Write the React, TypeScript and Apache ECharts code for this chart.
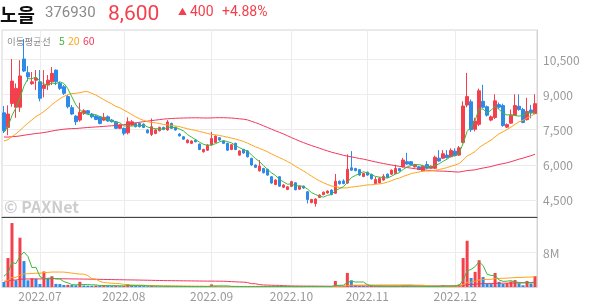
import React, { useEffect, useRef } from "react";
import * as echarts from "echarts";

// ---- header ----
const stockName = "노을";
const stockCode = "376930";
const lastPrice = "8,600";
const changeAbs = "400";
const changePct = "+4.88%";

// ---- axis ticks / labels ----
const priceTicks = [4500, 6000, 7500, 9000, 10500];
const volumeTicks = [8000000];
const monthStartIndex = [9, 30, 52, 72, 91, 113];
const monthLabels = ["2022.07", "2022.08", "2022.09", "2022.10", "2022.11", "2022.12"];

// closes / volumes before the visible window (only feed the moving averages)
const priorCloses = [
  8400, 8500, 8600, 8450, 8300, 8200, 8150, 8050, 7950, 7900, 7850, 7800, 7750, 7700, 7650,
  7600, 7550, 7500, 7450, 7400, 7350, 7300, 7250, 7200, 7150, 7100, 7050,
  6800, 6600, 6400, 6300, 6200, 6100, 6050, 6000, 6100, 6200, 6250, 6300, 6200,
  7000, 6950, 6900, 6850, 6800, 6750, 6800, 6850, 6900, 6950, 6900, 6850, 6800, 6900, 7050,
  7000, 7200, 7600, 7710,
];
const priorVolumes = [
  1.4, 1.3, 1.5, 1.2, 1.4, 1.3, 1.6, 1.2, 1.3, 1.4, 1.3, 1.2, 1.5, 1.4, 1.3, 1.2, 1.4, 1.3, 1.5, 1.2,
  1.3, 1.4, 1.3, 1.2, 1.5, 1.4, 1.3, 1.2, 1.4, 1.3, 1.5, 1.2, 1.3, 1.4, 1.3, 1.2, 1.5, 1.4, 1.3, 1.4,
  0.8, 0.7, 0.9, 0.8, 0.7, 0.8, 0.7, 0.8, 0.9, 0.7, 0.8, 0.7, 0.8, 0.7, 0.8,
  2.6, 3.0, 2.9, 2.84,
];

// [open, close, low, high]
const candles = [
  [8210, 7450, 7350, 8500], [7590, 8160, 7260, 8530], [8610, 9560, 8470, 10500], [8450, 9250, 8000, 9460],
  [8450, 9780, 8250, 10450], [10500, 9990, 9950, 11350], [9920, 9740, 9550, 10200], [9450, 9530, 9400, 9950],
  [9600, 9680, 9180, 10030], [9530, 8830, 8700, 10030], [9250, 9390, 8870, 10030], [9390, 9600, 9180, 9820],
  [9530, 9890, 9390, 10160], [10030, 9530, 9390, 10050], [9460, 9250, 9180, 9530], [9320, 9040, 8970, 9390],
  [8900, 8470, 8400, 8970], [8430, 8160, 8120, 8540], [8070, 7830, 7690, 8110], [7900, 8230, 7830, 8640],
  [8190, 8300, 8120, 8360], [8300, 8190, 8150, 8330], [8160, 8040, 7980, 8200], [8070, 7930, 7900, 8110],
  [8040, 7760, 7720, 8080], [7900, 8020, 7860, 8200], [8040, 7860, 7830, 8100], [7900, 7830, 7800, 7950],
  [7830, 7550, 7520, 7860], [7550, 7690, 7520, 7720], [7550, 7340, 7250, 7580], [7360, 7830, 7290, 8020],
  [7690, 7830, 7650, 7900], [7760, 7620, 7590, 7800], [7760, 7620, 7590, 7790], [7730, 7590, 7560, 7760],
  [7480, 7360, 7330, 7500], [7290, 7620, 7220, 7970], [7330, 7480, 7300, 7520], [7450, 7590, 7420, 7620],
  [7590, 7500, 7470, 7620], [7480, 7820, 7450, 7900], [7760, 7550, 7520, 7790], [7590, 7480, 7450, 7620],
  [7310, 7230, 7200, 7340], [7190, 7090, 7060, 7220], [6940, 7050, 6910, 7080], [6910, 7010, 6880, 7040],
  [7050, 6980, 6950, 7080], [6880, 6650, 6620, 6900], [6550, 6650, 6520, 6680], [6620, 6840, 6590, 6870],
  [6840, 7120, 6810, 7400], [6950, 7220, 6920, 7250], [7150, 7050, 7020, 7180], [7010, 6910, 6880, 7040],
  [6910, 6620, 6590, 6940], [6650, 6850, 6620, 6880], [6910, 6650, 6620, 6940], [6410, 6590, 6380, 6620],
  [6650, 6500, 6470, 6680], [6590, 6340, 6310, 6620], [6270, 5990, 5960, 6300], [5990, 5890, 5860, 6010],
  [5740, 5940, 5710, 6200], [5840, 5660, 5630, 5870], [5800, 5560, 5530, 5830], [5490, 5220, 5190, 5510],
  [5160, 5350, 5130, 5380], [5490, 5090, 5060, 5510], [5040, 5140, 5010, 5170], [4950, 5060, 4920, 5090],
  [5080, 5280, 5050, 5320], [5230, 4940, 4910, 5260], [4960, 5090, 4930, 5120], [5090, 5010, 4980, 5110],
  [4850, 4520, 4350, 4880], [4390, 4520, 4360, 4550], [4350, 4540, 4220, 4570], [4610, 4710, 4580, 4740],
  [4730, 4830, 4700, 4860], [4800, 4880, 4770, 4910], [4920, 4730, 4700, 4950], [4790, 5300, 4760, 5610],
  [5300, 5190, 5160, 5330], [5310, 5200, 5170, 5380], [5220, 5810, 5190, 6440], [5870, 5770, 5740, 6580],
  [5840, 5750, 5720, 5870], [5790, 5560, 5530, 5820], [5500, 5630, 5470, 5660], [5680, 5560, 5530, 5710],
  [5590, 5400, 5370, 5620], [5200, 5370, 5170, 5480], [5230, 5420, 5200, 5480], [5350, 5510, 5320, 5600],
  [5600, 5460, 5430, 5630], [5600, 5770, 5570, 5800], [5630, 5840, 5600, 6000], [5840, 5740, 5710, 5870],
  [5910, 6200, 5880, 6290], [6130, 6030, 6000, 6510], [6130, 6000, 5970, 6160], [5910, 6010, 5880, 6040],
  [5910, 5800, 5770, 5940], [5740, 5940, 5710, 6000], [6010, 5850, 5820, 6150], [5850, 5940, 5820, 5970],
  [5850, 6320, 5820, 6390], [6280, 6160, 6130, 6620], [6280, 6470, 6250, 6620], [6410, 6300, 6270, 6620],
  [6340, 6610, 6310, 6700], [6580, 6390, 6350, 6700], [6410, 6720, 6380, 6800], [6950, 8500, 6900, 8700],
  [8540, 8900, 8450, 9910], [8680, 7490, 7400, 8780], [7510, 7860, 7420, 8000], [7720, 9150, 7650, 9240],
  [8700, 8450, 8400, 9400], [8470, 8110, 8050, 8520], [7900, 8040, 7850, 8100], [8010, 8720, 7950, 9000],
  [8560, 8450, 8380, 8650], [8520, 7670, 7620, 8600], [7600, 7710, 7570, 7760], [7770, 8110, 7740, 8350],
  [8110, 8520, 8080, 9000], [8490, 8350, 8300, 9000], [8350, 7800, 7770, 8420], [7920, 8270, 7880, 8850],
  [8330, 8200, 7980, 8550], [8180, 8600, 8150, 9000],
];

// volume in millions of shares
const volumes = [
  1.16, 6.7, 14.8, 1.55, 11.4, 6.0, 1.55, 2.0, 1.9, 0.7, 3.6, 1.85, 2.5, 0.72, 0.68, 0.46, 0.5, 0.45, 0.4, 1.2,
  0.35, 0.3, 0.28, 0.33, 0.3, 0.45, 0.3, 0.22, 0.3, 0.2, 0.25, 0.7, 0.4, 0.3, 0.25, 0.2, 0.18, 0.3, 0.15, 0.14,
  0.12, 0.2, 0.13, 0.12, 0.1, 0.11, 0.09, 0.1, 0.08, 0.12, 0.1, 0.15, 0.6, 0.25, 0.12, 0.1, 0.12, 0.09, 0.1, 0.08,
  0.07, 0.09, 0.12, 0.1, 0.13, 0.09, 0.1, 0.14, 0.1, 0.12, 0.08, 0.07, 0.1, 0.12, 0.08, 0.07, 0.2, 0.12, 0.15, 0.1,
  0.09, 0.08, 0.1, 1.4, 0.3, 0.2, 3.25, 1.55, 0.45, 0.3, 0.25, 0.2, 0.22, 0.18, 0.2, 0.17, 0.14, 0.18, 0.2, 0.15,
  0.3, 0.25, 0.15, 0.12, 0.1, 0.13, 0.11, 0.09, 0.2, 0.15, 0.4, 0.2, 0.25, 0.3, 0.6, 6.7, 10.7, 2.1, 3.5, 6.2,
  2.3, 0.7, 0.68, 3.25, 1.2, 0.7, 0.9, 1.3, 1.6, 0.85, 0.4, 1.4, 0.8, 2.5,
];

const UP = "#f4404c";
const DOWN = "#2d8ae8";
const MA5C = "#3cb93c";
const MA20C = "#ffa41c";
const MA60C = "#f2375c";
const FONT = "'Noto Sans CJK KR', 'Noto Sans', sans-serif";
const NUMFONT = "Roboto, 'Noto Sans', sans-serif";

function movingAverage(values: number[], prior: number[], n: number): number[] {
  const all = prior.concat(values);
  return values.map((_, i) => {
    const end = prior.length + i;
    let s = 0;
    for (let k = end - n + 1; k <= end; k++) s += all[k];
    return s / n;
  });
}

export default function App() {
  const ref = useRef<HTMLDivElement>(null);
  useEffect(() => {
    if (!ref.current) return;
    const chart = echarts.init(ref.current, undefined, { renderer: "svg" });
    const cats = candles.map((_, i) => String(i));
    const closes = candles.map((c) => c[1]);
    const vol = volumes.map((v) => v * 1e6);
    const pVol = priorVolumes.map((v) => v * 1e6);
    const pma = (n: number) => movingAverage(closes, priorCloses, n);
    const vma = (n: number) => movingAverage(vol, pVol, n);
    const volData = vol.map((v, i) => {
      const prev = i === 0 ? pVol[pVol.length - 1] : vol[i - 1];
      return { value: v, itemStyle: { color: v >= prev ? UP : DOWN } };
    });
    const isMonthStart = (i: number) => monthStartIndex.indexOf(i) >= 0;
    const lineBase = { type: "line", showSymbol: false, symbol: "none", silent: true, lineStyle: { width: 1 } };

    chart.setOption({
      animation: false,
      grid: [
        { left: 2, right: 57, top: 30, height: 187, show: true, borderColor: "#d4d4d4", borderWidth: 1 },
        { left: 2, right: 57, top: 217, height: 70, show: true, borderColor: "#d4d4d4", borderWidth: 1 },
      ],
      xAxis: [
        {
          type: "category", gridIndex: 0, data: cats, boundaryGap: true,
          axisLine: { show: true, onZero: false, lineStyle: { color: "#444", width: 1 } },
          axisTick: { show: false }, axisLabel: { show: false },
          splitLine: { show: true, interval: (i: number) => isMonthStart(i), alignWithLabel: true, lineStyle: { color: "#ececec", width: 1 } },
        },
        {
          type: "category", gridIndex: 1, data: cats, boundaryGap: true,
          axisLine: { show: true, onZero: false, lineStyle: { color: "#d4d4d4", width: 1 } },
          axisTick: { show: false },
          axisLabel: {
            show: true, interval: (i: number) => isMonthStart(i), margin: 2,
            formatter: (_v: string, i: number) => monthLabels[monthStartIndex.indexOf(i)] || "",
            color: "#999", fontSize: 12, lineHeight: 13, fontFamily: FONT,
          },
          splitLine: { show: true, interval: (i: number) => isMonthStart(i), alignWithLabel: true, lineStyle: { color: "#ececec", width: 1 } },
        },
      ],
      yAxis: [
        {
          type: "value", gridIndex: 0, position: "right", min: 3776, max: 11736, scale: true,
          axisLine: { show: true, lineStyle: { color: "#d4d4d4" } },
          axisTick: { show: false, customValues: priceTicks },
          axisLabel: { customValues: priceTicks, formatter: (v: number) => v.toLocaleString("en-US"), color: "#999", fontSize: 12, margin: 6, fontFamily: FONT },
          splitLine: { show: true, lineStyle: { color: "#ececec", width: 1 } },
        },
        {
          type: "value", gridIndex: 1, position: "right", min: 0, max: 16200000,
          axisLine: { show: true, lineStyle: { color: "#d4d4d4" } },
          axisTick: { show: false, customValues: volumeTicks },
          axisLabel: { customValues: volumeTicks, formatter: (v: number) => v / 1e6 + "M", color: "#999", fontSize: 12, margin: 6, fontFamily: FONT },
          splitLine: { show: true, lineStyle: { color: "#ececec", width: 1 } },
        },
      ],
      series: [
        {
          type: "candlestick", xAxisIndex: 0, yAxisIndex: 0, data: candles, barWidth: 3, silent: true,
          itemStyle: { color: UP, color0: DOWN, borderColor: UP, borderColor0: DOWN, borderWidth: 1 },
        },
        { ...lineBase, xAxisIndex: 0, yAxisIndex: 0, data: pma(60), lineStyle: { width: 1, color: MA60C } },
        { ...lineBase, xAxisIndex: 0, yAxisIndex: 0, data: pma(20), lineStyle: { width: 1, color: MA20C } },
        { ...lineBase, xAxisIndex: 0, yAxisIndex: 0, data: pma(5), lineStyle: { width: 1, color: MA5C } },
        { type: "bar", xAxisIndex: 1, yAxisIndex: 1, data: volData, barWidth: 3, silent: true },
        { ...lineBase, xAxisIndex: 1, yAxisIndex: 1, data: vma(60), lineStyle: { width: 1, color: MA60C } },
        { ...lineBase, xAxisIndex: 1, yAxisIndex: 1, data: vma(20), lineStyle: { width: 1, color: MA20C } },
        { ...lineBase, xAxisIndex: 1, yAxisIndex: 1, data: vma(5), lineStyle: { width: 1, color: MA5C } },
      ],
      graphic: [
        { type: "text", x: 0, y: 4, style: { text: stockName, fill: "#111", fontSize: 19, fontWeight: "bold", fontFamily: FONT } },
        { type: "text", x: 45, y: 4, style: { text: stockCode, fill: "#8a8a8a", fontSize: 15, fontFamily: NUMFONT } },
        { type: "text", x: 108, y: 2, style: { text: lastPrice, fill: UP, fontSize: 21, fontFamily: NUMFONT } },
        { type: "text", x: 178, y: 7, style: { text: "▲", fill: UP, fontSize: 9, fontFamily: FONT } },
        { type: "text", x: 190, y: 4, style: { text: changeAbs, fill: UP, fontSize: 14, fontFamily: NUMFONT } },
        { type: "text", x: 222, y: 4, style: { text: changePct, fill: UP, fontSize: 14, fontFamily: NUMFONT } },
        { type: "text", x: 7, y: 36, style: { text: "이동평균선", fill: "#8a8a8a", fontSize: 9.5, fontFamily: FONT } },
        { type: "text", x: 59, y: 35, style: { text: "5", fill: MA5C, fontSize: 10.5, fontFamily: FONT } },
        { type: "text", x: 68, y: 35, style: { text: "20", fill: MA20C, fontSize: 10.5, fontFamily: FONT } },
        { type: "text", x: 83, y: 35, style: { text: "60", fill: MA60C, fontSize: 10.5, fontFamily: FONT } },
        { type: "text", x: 4, y: 198, style: { text: "© PAXNet", fill: "#cdcdcd", fontSize: 16, fontWeight: "bold", fontFamily: FONT } },
      ],
    });
    return () => chart.dispose();
  }, []);
  return <div ref={ref} style={{ position: "fixed", left: 0, top: 0, width: 594, height: 304 }} />;
}
